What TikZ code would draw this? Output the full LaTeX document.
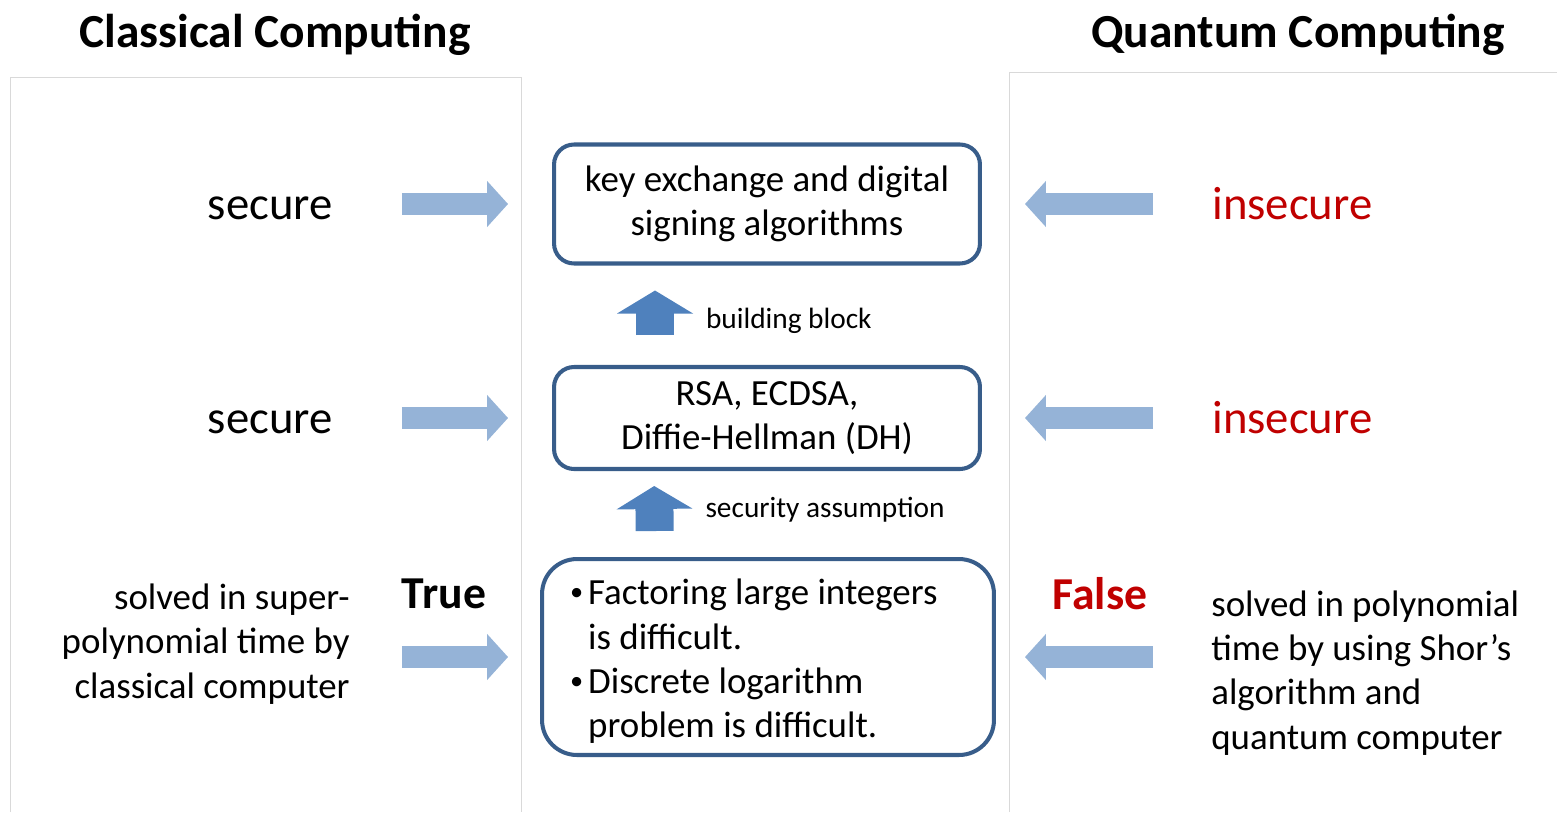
\documentclass[tikz,border=0pt]{standalone}
\usepackage{fontspec}
\setmainfont{Carlito}
\usepackage{xcolor}
\usetikzlibrary{arrows.meta,positioning}
\definecolor{boxblue}{RGB}{56,93,138}
\definecolor{paleblue}{RGB}{149,179,215}
\definecolor{midblue}{RGB}{79,129,189}
\definecolor{darkred}{RGB}{192,0,0}
\definecolor{panelgray}{RGB}{217,217,217}

\begin{document}
\begin{tikzpicture}[x=0.02cm,y=-0.02cm,
  box/.style={draw=boxblue,line width=2.3pt,rounded corners=0.4cm,align=center,minimum width=8.52cm,inner sep=0pt,font=\fontsize{21}{25.2}\selectfont},
  head/.style={inner sep=0pt,font=\fontsize{27}{32}\selectfont\bfseries},
  big/.style={inner sep=0pt,font=\fontsize{26.6}{32}\selectfont},
  side/.style={inner sep=0pt,font=\fontsize{21}{25.2}\selectfont},
  note/.style={inner sep=0pt,text=black,font=\fontsize{16.7}{20}\selectfont},
  fat/.style={paleblue,line width=0.44cm,-{Triangle[length=0.42cm,width=0.9cm]}},
  up/.style={midblue,line width=0.76cm,-{Triangle[length=0.46cm,width=1.5cm]}}]
\useasboundingbox (0,0) rectangle (1557,812);
% the two panels
\draw[panelgray] (10,812) -- (10,77) -- (521,77) -- (521,812);
\draw[panelgray] (1009,812) -- (1009,72) -- (1557,72);
\node[head] (classic) at (275,35) {Classical Computing};
\node[head] (quantum) at (1298,35) {Quantum Computing};
% middle column
\node[box,minimum height=2.38cm] (algo) at (767,204) {key exchange and digital\\signing algorithms};
\node[box,minimum height=2.04cm] (rsa) at (767,418) {RSA, ECDSA,\\Diffie-Hellman (DH)};
\node[box,rounded corners=0.7cm,minimum width=9.04cm,minimum height=3.92cm,align=flush left,text width=7.92cm] (hard) at (768,657) {%
  \spaceskip=0pt\relax
  \raisebox{-0.11cm}[\height][\depth]{\begin{tabular}{@{}l@{\hspace{0.1cm}}l@{}}
  \raisebox{0.12em}{\fontsize{15}{15}\selectfont\textbullet} & Factoring large integers\\
   & is difficult.\\
  \raisebox{0.12em}{\fontsize{15}{15}\selectfont\textbullet} & Discrete logarithm\\
   & problem is difficult.
  \end{tabular}}};
\draw[up,shorten <=0.6cm,shorten >=0.5cm] ([xshift=-2.24cm]rsa.north) -- ([xshift=-2.24cm]algo.south)
  node[note,midway,right=0.64cm,yshift=-0.12cm] (blockLbl) {building block};
\draw[up,shorten <=0.52cm,shorten >=0.3cm] ([xshift=-2.26cm]hard.north) -- ([xshift=-2.26cm]rsa.south)
  node[note,midway,right=0.64cm,yshift=0.08cm] (assumLbl) {security assumption};
% classical side
\node[big,anchor=east] (sec1) at (333,208) {secure};
\node[big,anchor=east] (sec2) at (333,422) {secure};
\node[big,font=\fontsize{26}{32}\selectfont\bfseries] (true) at (444,594) {True};
\node[side,align=right,anchor=east] (classicalTxt) at (350,644) {solved in super-\\polynomial time by\\classical computer};
\draw[fat,shorten <=1.38cm,shorten >=0.88cm] (sec1.east |- algo.west) -- (algo.west);
\draw[fat,shorten <=1.38cm,shorten >=0.88cm] (sec2.east |- rsa.west) -- (rsa.west);
\draw[fat,shorten <=1.04cm,shorten >=0.64cm] (hard.west -| classicalTxt.east) -- (hard.west);
% quantum side
\node[big,anchor=west,text=darkred] (ins1) at (1212,204) {insecure};
\node[big,anchor=west,text=darkred] (ins2) at (1212,418) {insecure};
\node[big,font=\fontsize{26}{32}\selectfont\bfseries,text=darkred] (false) at (1100,594) {False};
\node[side,align=left,anchor=west] (shorTxt) at (1211,673) {solved in polynomial\\time by using Shor’s\\algorithm and\\quantum computer};
\draw[fat,shorten <=1.18cm,shorten >=0.86cm] (ins1.west) -- (ins1.west -| algo.east);
\draw[fat,shorten <=1.18cm,shorten >=0.86cm] (ins2.west) -- (ins2.west -| rsa.east);
\draw[fat,shorten <=1.16cm,shorten >=0.58cm] (hard.east -| shorTxt.west) -- (hard.east);
\end{tikzpicture}
\end{document}
